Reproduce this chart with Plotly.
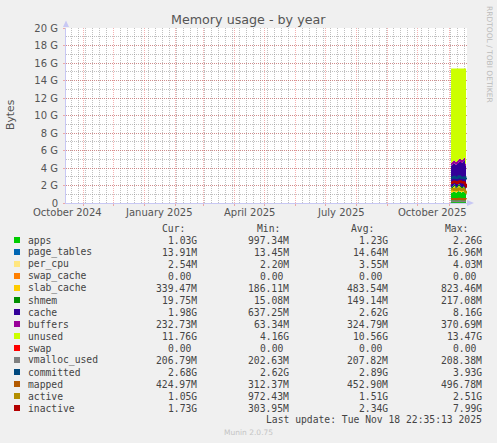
import pandas as pd
import plotly.graph_objects as go

W, H = 497, 443
L, R, T, B = 66, 467, 28, 203   # plot area, pixels

# daily averages, in G
days = pd.date_range("2025-11-03", "2025-11-18", freq="D")

apps = [1.15, 1.20, 1.25, 1.30, 1.22, 1.18, 1.25, 1.35, 1.30, 1.28, 1.20, 1.25, 1.30, 1.22, 1.15, 1.03]
page_tables = [0.0150, 0.0148, 0.0152, 0.0155, 0.0147, 0.0143, 0.0145, 0.0150, 0.0158, 0.0149, 0.0142, 0.0140, 0.0143, 0.0146, 0.0139, 0.0136]
per_cpu = [0.0035, 0.0036, 0.0037, 0.0038, 0.0036, 0.0035, 0.0036, 0.0037, 0.0039, 0.0036, 0.0034, 0.0034, 0.0035, 0.0036, 0.0030, 0.0025]
swap_cache = [0, 0, 0, 0, 0, 0, 0, 0, 0, 0, 0, 0, 0, 0, 0, 0]
slab_cache = [0.45, 0.50, 0.55, 0.60, 0.50, 0.45, 0.50, 0.55, 0.60, 0.50, 0.45, 0.40, 0.45, 0.50, 0.40, 0.33]
shmem = [0.18, 0.17, 0.18, 0.19, 0.17, 0.16, 0.18, 0.19, 0.20, 0.18, 0.16, 0.15, 0.14, 0.10, 0.05, 0.02]
cache = [2.45, 2.50, 2.45, 2.40, 2.50, 2.55, 2.50, 2.50, 2.60, 2.70, 2.75, 2.80, 2.85, 3.00, 2.60, 1.98]
buffers = [0.35, 0.34, 0.34, 0.35, 0.33, 0.33, 0.34, 0.34, 0.35, 0.35, 0.34, 0.33, 0.33, 0.32, 0.30, 0.23]
unused = [10.78, 10.65, 10.59, 10.52, 10.64, 10.69, 10.59, 10.43, 10.31, 10.35, 10.46, 10.43, 10.29, 10.22, 10.86, 11.76]
swap = [0, 0, 0, 0, 0, 0, 0, 0, 0, 0, 0, 0, 0, 0, 0, 0]
vmalloc_used = [0.203, 0.203, 0.203, 0.203, 0.203, 0.203, 0.203, 0.203, 0.203, 0.204, 0.203, 0.203, 0.203, 0.203, 0.202, 0.202]
committed = [2.85, 2.90, 2.95, 3.00, 2.90, 2.85, 2.90, 3.00, 3.05, 2.95, 2.90, 2.85, 2.90, 2.95, 2.80, 2.68]
mapped = [0.45, 0.46, 0.46, 0.47, 0.45, 0.44, 0.45, 0.47, 0.48, 0.46, 0.45, 0.44, 0.45, 0.46, 0.44, 0.415]
active = [1.55, 1.60, 1.55, 1.50, 1.60, 1.55, 1.50, 1.60, 1.65, 1.55, 1.50, 1.55, 1.60, 1.50, 1.30, 1.05]
inactive = [2.30, 2.35, 2.40, 2.45, 2.40, 2.35, 2.30, 2.40, 2.45, 2.50, 2.40, 2.35, 2.40, 2.30, 2.10, 1.73]

names = ["apps", "page_tables", "per_cpu", "swap_cache", "slab_cache", "shmem", "cache",
         "buffers", "unused", "swap", "vmalloc_used", "committed", "mapped", "active", "inactive"]
colors = ["#00CC00", "#0066B3", "#FFE680", "#FF8000", "#FFCC00", "#008F00", "#330099",
          "#990099", "#CCFF00", "#FF0000", "#808080", "#00487D", "#B35A00", "#B38F00", "#B30000"]
values = [apps, page_tables, per_cpu, swap_cache, slab_cache, shmem, cache,
          buffers, unused, swap, vmalloc_used, committed, mapped, active, inactive]
n_stacked = 10

cur_vals = ["1.03G", "13.91M", "2.54M", "0.00", "339.47M", "19.75M", "1.98G", "232.73M",
            "11.76G", "0.00", "206.79M", "2.68G", "424.97M", "1.05G", "1.73G"]
min_vals = ["997.34M", "13.45M", "2.20M", "0.00", "186.11M", "15.08M", "637.25M", "63.34M",
            "4.16G", "0.00", "202.63M", "2.62G", "312.37M", "972.43M", "303.95M"]
avg_vals = ["1.23G", "14.64M", "3.55M", "0.00", "483.54M", "149.14M", "2.62G", "324.79M",
            "10.56G", "0.00", "207.82M", "2.89G", "452.90M", "1.51G", "2.34G"]
max_vals = ["2.26G", "16.96M", "4.03M", "0.00", "823.46M", "217.08M", "8.16G", "370.69M",
            "13.47G", "0.00", "208.38M", "3.93G", "496.78M", "2.51G", "7.99G"]
col_heads = ["Cur:", "Min:", "Avg:", "Max:"]

y_ticks = [0, 2, 4, 6, 8, 10, 12, 14, 16, 18, 20]
y_tick_labels = ["0", "2 G", "4 G", "6 G", "8 G", "10 G", "12 G", "14 G", "16 G", "18 G", "20 G"]
x_labels = ["October 2024", "January 2025", "April 2025", "July 2025", "October 2025"]

title = "Memory usage - by year"
last_update = "Last update: Tue Nov 18 22:35:13 2025"


def px(x):
    return (x - L) / (R - L)


def py(y):
    return (B - y) / (B - T)


fig = go.Figure()
for i in range(len(names)):
    if i < n_stacked:
        fig.add_trace(go.Scatter(x=days, y=values[i], name=names[i], stackgroup="mem", mode="lines",
                                 line=dict(width=0, shape="hv", color=colors[i]), fillcolor=colors[i]))
    else:
        fig.add_trace(go.Scatter(x=days, y=values[i], name=names[i], mode="lines",
                                 line=dict(width=2, shape="hv", color=colors[i])))

axis_col = "#c8c8f4"
red_grid = "rgba(230,70,70,0.42)"
grey_grid = "rgba(130,130,130,0.5)"
sans = "DejaVu Sans"
mono = "DejaVu Sans Mono"
txt = "#444444"

fig.update_layout(
    width=W, height=H,
    margin=dict(l=L, r=W - R, t=T, b=H - B, pad=0),
    paper_bgcolor="#F0F0F0", plot_bgcolor="white",
    showlegend=False,
    font=dict(family=sans, size=10, color="#555555"),
    xaxis=dict(type="date", range=["2024-10-14 22:35", "2025-11-18 22:35"],
               dtick="M1", tick0="2024-11-01", showticklabels=False,
               ticks="outside", ticklen=2, tickcolor=red_grid,
               showgrid=True, gridcolor=red_grid, griddash="1px,1px", gridwidth=1,
               minor=dict(dtick=7 * 86400000, tick0="2024-10-20", showgrid=True,
                          gridcolor=grey_grid, griddash="1px,1px", gridwidth=1),
               showline=True, linecolor=axis_col, linewidth=1, zeroline=False, fixedrange=True),
    yaxis=dict(range=[0, 20], tickmode="array", tickvals=y_ticks, ticktext=y_tick_labels,
               ticks="outside", ticklen=2, tickcolor=red_grid, ticklabelstandoff=3,
               showgrid=True, gridcolor=red_grid, griddash="1px,1px", gridwidth=1,
               minor=dict(dtick=1, showgrid=True, gridcolor=grey_grid, griddash="1px,1px", gridwidth=1),
               showline=True, linecolor=axis_col, linewidth=1, zeroline=False, fixedrange=True),
)

ann = []
ann.append(dict(x=px(248), y=py(19), text=title, font=dict(size=12.7, color="#555555")))
ann.append(dict(x=px(10), y=py(115), text="Bytes", textangle=-90, font=dict(size=10.8, color="#555555")))
ann.append(dict(x=px(490), y=py(54), text="RRDTOOL / TOBI OETIKER", textangle=90,
                font=dict(size=7.5, color="#bbbbbb")))
ann.append(dict(x=px(248), y=py(432.5), text="Munin 2.0.75", font=dict(size=7.5, color="#c4c4c4")))

for lab in x_labels:
    ann.append(dict(x=pd.Timestamp(lab) + pd.Timedelta(days=15), xref="x", y=py(212.5),
                    text=lab, font=dict(size=10, color="#555555")))

head_right = [186, 280.5, 374.5, 469.5]
val_right = [198, 289.5, 388.5, 483]
for j, h in enumerate(col_heads):
    ann.append(dict(x=px(head_right[j]), y=py(228), text=h, xanchor="right",
                    font=dict(family=mono, size=9.7, color=txt)))

shapes = []
for i, nm in enumerate(names):
    yc = 240 + 12 * i
    shapes.append(dict(type="rect", xref="paper", yref="paper", x0=px(14), x1=px(20),
                       y0=py(yc + 3), y1=py(yc - 3), fillcolor=colors[i], line=dict(width=0)))
    ann.append(dict(x=px(26.5), y=py(yc), text=nm, xanchor="left",
                    font=dict(family=mono, size=9.7, color=txt)))
    for j, col in enumerate([cur_vals, min_vals, avg_vals, max_vals]):
        v = col[i]
        if v[-1].isdigit():
            v = v + "\u00a0"
        ann.append(dict(x=px(val_right[j]), y=py(yc), text=v, xanchor="right",
                        font=dict(family=mono, size=9.7, color=txt)))

ann.append(dict(x=px(483), y=py(419.5), text=last_update, xanchor="right",
                font=dict(family=mono, size=9.7, color=txt)))

for a in ann:
    a.setdefault("xref", "paper")
    a["yref"] = "paper"
    a["showarrow"] = False
    a["borderpad"] = 0
    a.setdefault("xanchor", "center")
    a["yanchor"] = "middle"

# axis arrows
shapes.append(dict(type="path", xref="paper", yref="paper",
                   path="M {} {} L {} {} L {} {} Z".format(px(63), py(27), px(69), py(27), px(66), py(20.5)),
                   fillcolor=axis_col, line=dict(width=0)))
shapes.append(dict(type="path", xref="paper", yref="paper",
                   path="M {} {} L {} {} L {} {} Z".format(px(467), py(200), px(467), py(206), px(474), py(203)),
                   fillcolor=axis_col, line=dict(width=0)))

fig.update_layout(annotations=ann, shapes=shapes)

# the page body has an 8px margin by default; drop it so the figure fills the window
fig.write_html("out.html", config={"displayModeBar": False},
               post_script="document.body.style.margin='0';document.body.style.background='#F0F0F0';")
